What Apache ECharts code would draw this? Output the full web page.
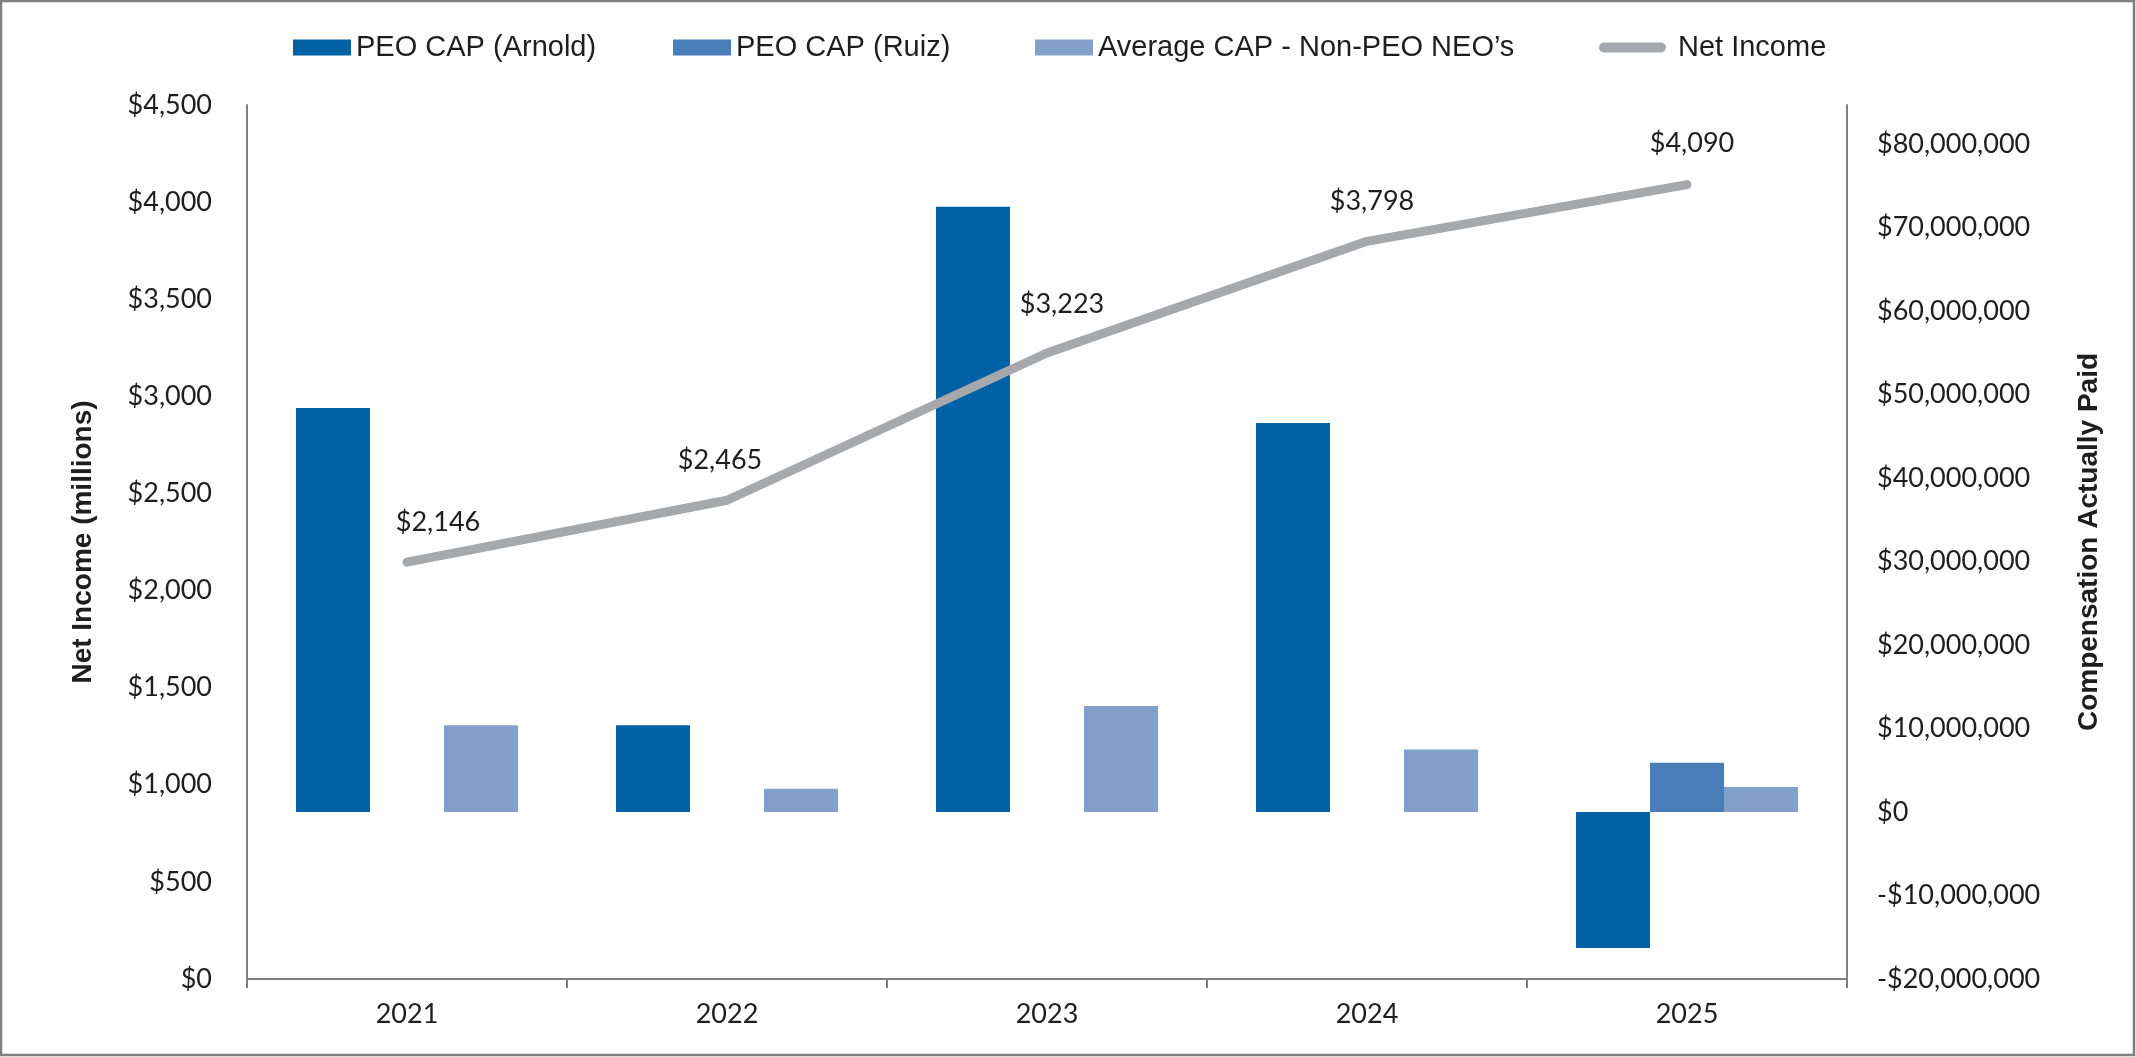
<!DOCTYPE html>
<html>
<head>
<meta charset="utf-8">
<script src="https://cdn.jsdelivr.net/npm/echarts@6/dist/echarts.min.js"></script>
<style>
html,body{margin:0;padding:0;background:#fff;}
#chart{width:2136px;height:1057px;}
</style>
</head>
<body>
<div id="chart"></div>
<script>
// ---- data ----
const categories = ['2021', '2022', '2023', '2024', '2025'];
const netIncome = [2146, 2465, 3223, 3798, 4090];              // $ millions (left axis)
const capArnold = [48400000, 10400000, 72500000, 46600000, -16300000];
const capRuiz = [null, null, null, null, 5900000];
const capNonPeo = [10400000, 2800000, 12700000, 7500000, 3000000];
const seriesNames = ['PEO CAP (Arnold)', 'PEO CAP (Ruiz)', 'Average CAP - Non-PEO NEO\u2019s', 'Net Income'];
const leftAxisRange = { min: 0, max: 4500, interval: 500 };
const rightAxisRange = { min: -20000000, max: 84700000, interval: 10000000 };

// ---- styles ----
const colors = ['#0062A5', '#4A7EB8', '#83A0CB', '#A7A8AB'];
const labelFont = 'Lato, "Open Sans", sans-serif';
const titleFont = '"Liberation Sans", Arial, sans-serif';
const textColor = '#1e1e1e';
const axisColor = '#808080';
const lineLabelOffsets = [[31, 0], [-7, 0], [15, -9], [5, 0], [5, -1]];

function money(v) {
  const s = '$' + Math.abs(v).toLocaleString('en-US');
  return v < 0 ? '-' + s : s;
}

const chart = echarts.init(document.getElementById('chart'), null, { renderer: 'canvas' });

function legendAt(left, name, extra) {
  return Object.assign({
    data: [name],
    left: left,
    top: 33,
    padding: 0,
    itemWidth: 58,
    itemHeight: 16,
    icon: 'rect',
    selectedMode: false,
    textStyle: { fontFamily: titleFont, fontSize: 29, color: textColor }
  }, extra || {});
}

const option = {
  backgroundColor: '#ffffff',
  animation: false,
  graphic: [{
    type: 'rect',
    shape: { x: 1, y: 1, width: 2133, height: 1054 },
    style: { fill: 'none', stroke: '#7f7f7f', lineWidth: 2.5 },
    silent: true
  }],
  legend: [
    legendAt(293, seriesNames[0]),
    legendAt(673, seriesNames[1]),
    legendAt(1035, seriesNames[2]),
    legendAt(1599, seriesNames[3], {
      top: 33,
      itemWidth: 67, itemHeight: 10,
      icon: 'path://M5 0H62A5 5 0 0 1 62 10H5A5 5 0 0 1 5 0Z',
      textStyle: { fontFamily: titleFont, fontSize: 29, color: textColor, padding: [0, 0, 0, 7] }
    })
  ],
  grid: { left: 247, right: 289, top: 105, bottom: 78, containLabel: false },
  xAxis: {
    type: 'category',
    data: categories,
    axisLine: { onZero: false, lineStyle: { color: axisColor, width: 2 } },
    axisTick: { show: true, length: 9, lineStyle: { color: axisColor, width: 2 } },
    axisLabel: { fontFamily: labelFont, fontSize: 27, color: textColor, margin: 22 },
    splitLine: { show: false }
  },
  yAxis: [{
    type: 'value',
    position: 'left',
    min: leftAxisRange.min, max: leftAxisRange.max, interval: leftAxisRange.interval,
    name: 'Net Income (millions)',
    nameLocation: 'middle',
    nameRotate: 90,
    nameGap: 150,
    nameTextStyle: { fontFamily: titleFont, fontSize: 28, fontWeight: 'bold', color: textColor },
    axisLine: { show: true, lineStyle: { color: axisColor, width: 2 } },
    axisTick: { show: false },
    splitLine: { show: false },
    axisLabel: { formatter: money, fontFamily: labelFont, fontSize: 27, color: textColor, margin: 35 }
  }, {
    type: 'value',
    position: 'right',
    min: rightAxisRange.min, max: rightAxisRange.max, interval: rightAxisRange.interval,
    name: 'Compensation Actually Paid',
    nameLocation: 'middle',
    nameRotate: 90,
    nameGap: 228,
    nameTextStyle: { fontFamily: titleFont, fontSize: 28, fontWeight: 'bold', color: textColor },
    axisLine: { show: true, lineStyle: { color: axisColor, width: 2 } },
    axisTick: { show: false },
    splitLine: { show: false },
    axisLabel: { formatter: money, fontFamily: labelFont, fontSize: 27, color: textColor, margin: 30, showMaxLabel: false }
  }],
  series: [
    {
      name: seriesNames[0], type: 'bar', yAxisIndex: 1, data: capArnold,
      itemStyle: { color: colors[0] }, barGap: '0%', barCategoryGap: '30.6%'
    },
    {
      name: seriesNames[1], type: 'bar', yAxisIndex: 1, data: capRuiz,
      itemStyle: { color: colors[1] }, barGap: '0%', barCategoryGap: '30.6%'
    },
    {
      name: seriesNames[2], type: 'bar', yAxisIndex: 1, data: capNonPeo,
      itemStyle: { color: colors[2] }, barGap: '0%', barCategoryGap: '30.6%'
    },
    {
      name: seriesNames[3], type: 'line', yAxisIndex: 0,
      data: netIncome.map((v, i) => ({ value: v, label: { offset: lineLabelOffsets[i] } })),
      symbol: 'circle', symbolSize: 1, showSymbol: true,
      itemStyle: { color: colors[3] },
      lineStyle: { color: colors[3], width: 9, cap: 'round', join: 'round' },
      label: {
        show: true, position: 'top', distance: 26,
        formatter: p => money(p.value),
        fontFamily: labelFont, fontSize: 27, color: textColor
      },
      z: 5
    }
  ]
};
chart.setOption(option);
</script>
</body>
</html>
